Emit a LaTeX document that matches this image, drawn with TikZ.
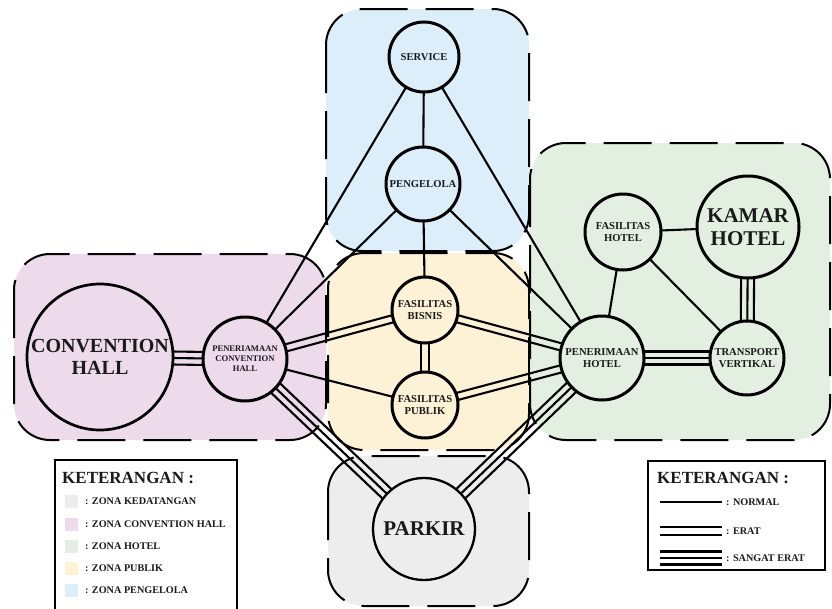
\documentclass[tikz,border=0pt]{standalone}
\usepackage{fontspec}
\setmainfont{Liberation Serif}
\usetikzlibrary{calc}
\pgfdeclarelayer{zonelayer}
\pgfdeclarelayer{edgelayer}
\pgfsetlayers{zonelayer,edgelayer,main}
\definecolor{zblue}{HTML}{DCEEF9}
\definecolor{zpink}{HTML}{EDDAEB}
\definecolor{zyellow}{HTML}{FDF1D6}
\definecolor{zgreen}{HTML}{E3EFE1}
\definecolor{zgray}{HTML}{EDEDED}
\definecolor{ink}{HTML}{1A1A1A}
\newcommand\fntA{\fontsize{10.6}{12.5}\selectfont\bfseries}
\newcommand\fntB{\fontsize{8.6}{10}\selectfont\bfseries}
\newcommand\fntC{\fontsize{20}{22}\selectfont\bfseries}
\newcommand\fntD{\fontsize{21}{23}\selectfont\bfseries}
\newcommand\fntT{\fontsize{17}{19}\selectfont\bfseries}
\newcommand\fntL{\fontsize{10.2}{12}\selectfont\bfseries}
\newcommand\lnormal[2]{\draw[conn] (#1.center) -- (#2.center);}
\newcommand\lerat[2]{%
  \draw[conn] ($(#1.center)!3.6pt!90:(#2.center)$) -- ($(#2.center)!3.6pt!-90:(#1.center)$);
  \draw[conn] ($(#1.center)!3.6pt!-90:(#2.center)$) -- ($(#2.center)!3.6pt!90:(#1.center)$);}
\newcommand\lsangat[2]{%
  \draw[conn] (#1.center) -- (#2.center);
  \draw[conn] ($(#1.center)!6.5pt!90:(#2.center)$) -- ($(#2.center)!6.5pt!-90:(#1.center)$);
  \draw[conn] ($(#1.center)!6.5pt!-90:(#2.center)$) -- ($(#2.center)!6.5pt!90:(#1.center)$);}
\begin{document}
\begin{tikzpicture}[x=1pt,y=-1pt,
  zone/.style={draw=black, line width=2pt, dash pattern=on 48pt off 18pt, rounded corners=36pt},
  bub/.style={circle, draw=black, line width=3pt, inner sep=0pt, align=center, text=ink},
  conn/.style={draw=black, line width=2.1pt},
  legbox/.style={draw=black, line width=1.5pt},
  legtxt/.style={anchor=west, inner sep=0pt, text=ink, font=\fntL},
  swatch/.style={draw=none, minimum size=13pt, inner sep=0pt}]
\useasboundingbox (0,0) rectangle (832,608);
\begin{pgfonlayer}{zonelayer}
  \fill[white] (0,0) rectangle (832,608);
  \path[zone, fill=zblue] (326,9) rectangle (529,251);
  \path[zone, fill=zpink] (14,254) rectangle (326,440);
  \path[zone, fill=zyellow] (328,253) rectangle (529,450);
  \path[zone, fill=zgreen] (530,143) rectangle (830,440);
  \path[zone, fill=zgray] (328,456) rectangle (529,606);
\end{pgfonlayer}

% nodes
\node[bub, fill=zblue, minimum size=70pt, font=\fntA] (service) at (424,57) {SERVICE};
\node[bub, fill=zblue, minimum size=74pt, font=\fntA] (pengelola) at (423,184) {PENGELOLA};
\node[bub, fill=zyellow, minimum size=66pt, font=\fntA] (fb) at (425,310) {FASILITAS\\BISNIS};
\node[bub, fill=zyellow, minimum size=66pt, font=\fntA] (fp) at (425,405) {FASILITAS\\PUBLIK};
\node[bub, fill=zpink, minimum size=84pt, font=\fntB] (pch) at (245,359) {PENERIAMAAN\\CONVENTION\\HALL};
\node[bub, fill=zpink, minimum size=146pt, line width=2.7pt, font=\fntC] (ch) at (100,357) {CONVENTION\\HALL};
\node[bub, fill=zgreen, minimum size=84pt, font=\fntA] (ph) at (602,358) {PENERIMAAN\\HOTEL};
\node[bub, fill=zgreen, minimum size=74pt, font=\fntA] (tv) at (747,358) {TRANSPORT\\VERTIKAL};
\node[bub, fill=zgreen, minimum size=76pt, font=\fntA] (fh) at (623,232) {FASILITAS\\HOTEL};
\node[bub, fill=zgreen, minimum size=102pt, font=\fntD] (kh) at (748,227) {KAMAR\\HOTEL};
\node[bub, fill=zgray, minimum size=102pt, line width=2.3pt, font=\fntD] (parkir) at (424,529) {PARKIR};

% connectors
\begin{pgfonlayer}{edgelayer}
  \lnormal{service}{pengelola}
  \lnormal{service}{pch}
  \lnormal{service}{ph}
  \lnormal{pengelola}{pch}
  \lnormal{pengelola}{fb}
  \lnormal{pengelola}{ph}
  \lnormal{pch}{fp}
  \lnormal{fh}{kh}
  \lnormal{fh}{ph}
  \lnormal{fh}{tv}
  \lerat{pch}{fb}
  \lerat{fb}{fp}
  \lerat{fb}{ph}
  \lerat{fp}{ph}
  \lsangat{ch}{pch}
  \lsangat{pch}{parkir}
  \lsangat{ph}{parkir}
  \lsangat{ph}{tv}
  \lsangat{kh}{tv}
\end{pgfonlayer}

% left legend
\draw[legbox] (55,612) -- (55,460) -- (237,460) -- (237,612);
\node[anchor=base west, inner sep=0pt, text=ink, font=\fntT] (lt1) at (62,483) {KETERANGAN :};
\node[swatch, fill=zgray] (s1) at (71,501) {};
\node[swatch, fill=zpink] (s2) at (71,524) {};
\node[swatch, fill=zgreen] (s3) at (71,546) {};
\node[swatch, fill=zyellow] (s4) at (71,568) {};
\node[swatch, fill=zblue] (s5) at (71,590) {};
\node[legtxt] (l1) at (85,501) {: ZONA KEDATANGAN};
\node[legtxt] (l2) at (85,524) {: ZONA CONVENTION HALL};
\node[legtxt] (l3) at (85,546) {: ZONA HOTEL};
\node[legtxt] (l4) at (85,568) {: ZONA PUBLIK};
\node[legtxt] (l5) at (85,590) {: ZONA PENGELOLA};

% right legend
\draw[legbox] (648,461) rectangle (825,570);
\node[anchor=base west, inner sep=0pt, text=ink, font=\fntT] (lt2) at (657,483) {KETERANGAN :};
\coordinate (n1) at (660,502); \coordinate (n2) at (722,502);
\coordinate (e1) at (660,531); \coordinate (e2) at (722,531);
\coordinate (g1) at (660,558); \coordinate (g2) at (722,558);
\lnormal{n1}{n2}
\lerat{e1}{e2}
\lsangat{g1}{g2}
\node[legtxt] (r1) at (726,502) {: NORMAL};
\node[legtxt] (r2) at (726,531) {: ERAT};
\node[legtxt] (r3) at (726,558) {: SANGAT ERAT};
\end{tikzpicture}
\end{document}
